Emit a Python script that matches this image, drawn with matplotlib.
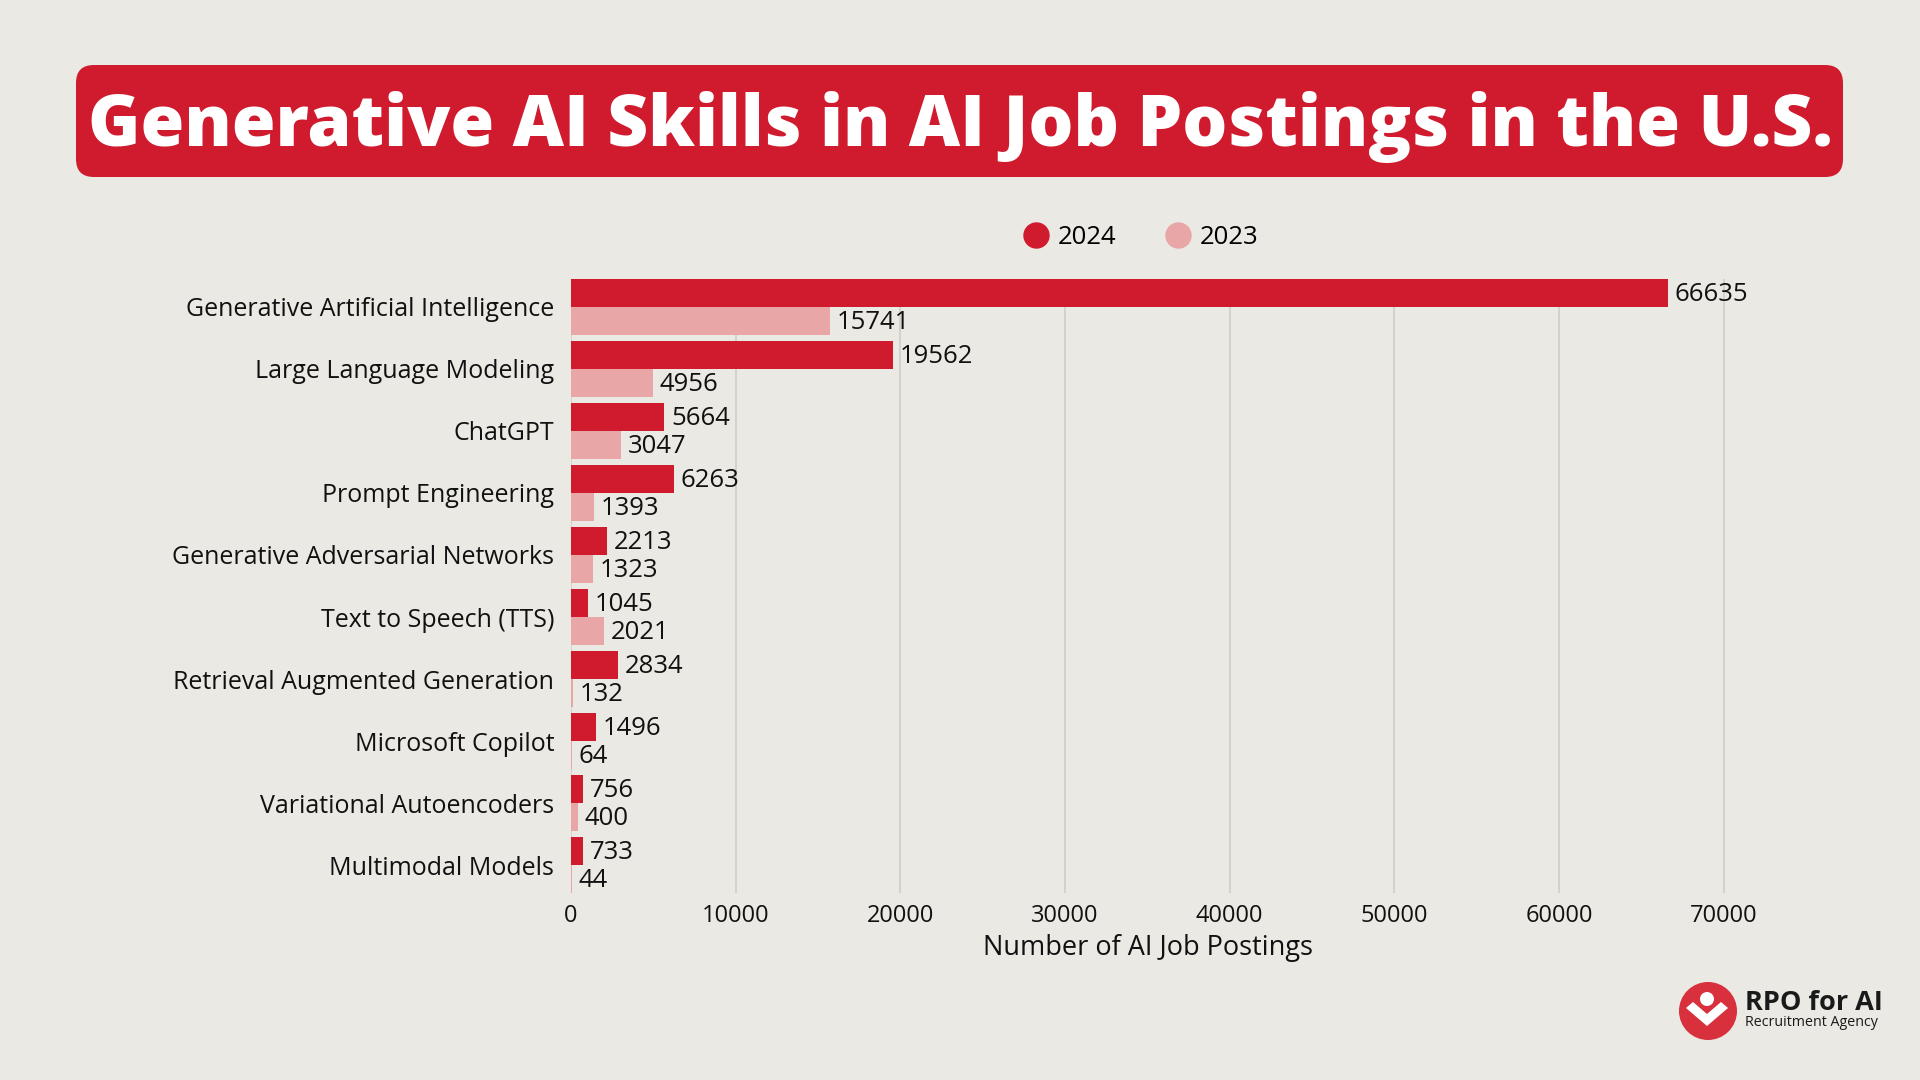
import matplotlib
matplotlib.use("Agg")
import matplotlib.pyplot as plt
from matplotlib.patches import FancyBboxPatch, Circle, Polygon
from matplotlib.lines import Line2D
import numpy as np

categories = ["Generative Artificial Intelligence", "Large Language Modeling", "ChatGPT",
              "Prompt Engineering", "Generative Adversarial Networks", "Text to Speech (TTS)",
              "Retrieval Augmented Generation", "Microsoft Copilot", "Variational Autoencoders",
              "Multimodal Models"]
values_2024 = [66635, 19562, 5664, 6263, 2213, 1045, 2834, 1496, 756, 733]
values_2023 = [15741, 4956, 3047, 1393, 1323, 2021, 132, 64, 400, 44]
x_ticks = [0, 10000, 20000, 30000, 40000, 50000, 60000, 70000]
title = "Generative AI Skills in AI Job Postings in the U.S."
x_label = "Number of AI Job Postings"

BG = "#EAE9E3"
RED = "#D01A2D"
PINK = "#E8A6A6"
FONT = "Open Sans"

plt.rcParams['font.family'] = [FONT, 'DejaVu Sans']

fig = plt.figure(figsize=(19.2, 10.8), dpi=100, facecolor=BG)

# background pixel-space axes
bg = fig.add_axes([0, 0, 1, 1], zorder=0)
bg.set_xlim(0, 1920)
bg.set_ylim(1080, 0)
bg.axis("off")
bg.add_patch(FancyBboxPatch((76, 65), 1767, 112, boxstyle="round,pad=0,rounding_size=18",
                            facecolor=RED, edgecolor="none"))
bg.text(960, 146, title, ha="center", va="baseline", color="white",
        fontsize=51, fontweight="heavy", family=["Open Sans", "DejaVu Sans"])

# logo
bg.add_patch(Circle((1708, 1011), 29, facecolor="#D8303C", edgecolor="none"))
bg.add_patch(Circle((1707, 999), 7, facecolor="white", edgecolor="none"))
bg.add_patch(Polygon([(1686, 1008), (1693, 1002), (1707, 1014), (1721, 1002), (1728, 1008),
                      (1707, 1026)], closed=True, facecolor="white", edgecolor="none"))
bg.text(1745, 1010, "RPO for AI", ha="left", va="baseline", fontsize=19.5, fontweight="bold",
        color="#1a1a1a")
bg.text(1745, 1026, "Recruitment Agency", ha="left", va="baseline", fontsize=10.3,
        color="#1a1a1a")

# main chart
ax = fig.add_axes([571 / 1920, 1 - 893 / 1080, 1202 / 1920, (893 - 279) / 1080], zorder=1)
ax.set_facecolor("none")
y = np.arange(len(categories))
h = 0.45
ax.barh(y - h / 2, values_2024, height=h, color=RED, label="2024", zorder=3)
ax.barh(y + h / 2, values_2023, height=h, color=PINK, label="2023", zorder=3)
for yi, v in zip(y, values_2024):
    ax.text(v + 400, yi - h / 2 + 0.03, str(v), va="center", ha="left", fontsize=18.5, color="#111111")
for yi, v in zip(y, values_2023):
    ax.text(v + 400, yi + h / 2 + 0.03, str(v), va="center", ha="left", fontsize=18.5, color="#111111")

ax.set_xlim(0, 73000)
ax.set_ylim(len(categories) - 1 + h, -h)
ax.set_yticks(y)
ax.set_yticklabels(categories, fontsize=18, color="#111111")
ax.set_xticks(x_ticks)
ax.set_xticklabels([str(t) for t in x_ticks], fontsize=17, color="#111111")
ax.tick_params(axis="both", length=0)
ax.tick_params(axis="y", pad=12)
ax.tick_params(axis="x", pad=8)
ax.set_xlabel(x_label, fontsize=19.5, color="#111111")
ax.xaxis.set_label_coords((1148 - 571) / 1202, -0.066)
ax.xaxis.label.set_va("top")
for s in ax.spines.values():
    s.set_visible(False)
ax.grid(axis="x", color="#CFCFCA", linewidth=1.2, zorder=0)
ax.set_axisbelow(True)

handles = [Line2D([], [], marker="o", linestyle="none", markersize=18, color=RED, label="2024"),
           Line2D([], [], marker="o", linestyle="none", markersize=18, color=PINK, label="2023")]
fig.legend(handles=handles, loc="center", bbox_to_anchor=(1141 / 1920, 1 - 237 / 1080), ncol=2,
           frameon=False, fontsize=18.5, handletextpad=0.35, columnspacing=1.9, handlelength=1.0)

fig.savefig("out.png", dpi=100, facecolor=BG)
